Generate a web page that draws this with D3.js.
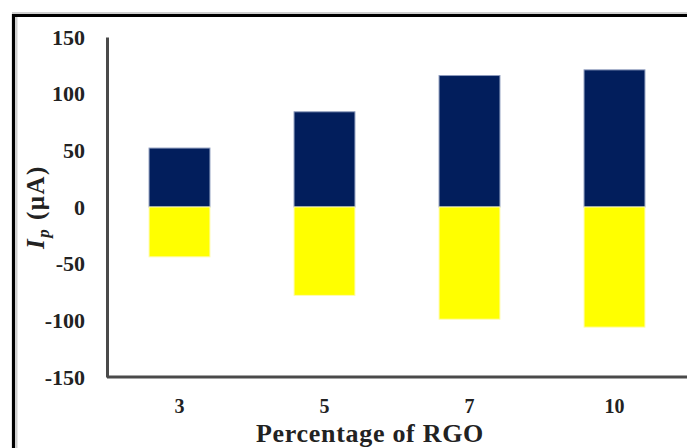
<!DOCTYPE html>
<html>
<head>
<meta charset="utf-8">
<script src="https://cdn.jsdelivr.net/npm/d3@7/dist/d3.min.js"></script>
<style>
html,body{margin:0;padding:0;background:#fff;}
svg{display:block;}
text{font-family:"Liberation Serif","Times New Roman",serif;font-weight:bold;fill:#222;}
</style>
</head>
<body>
<svg id="chart" width="687" height="448"></svg>
<script>
const categories = ["3", "5", "7", "10"];
const anodic = [52, 84, 116, 121];
const cathodic = [-44, -78, -99, -106];
const yTicks = [150, 100, 50, 0, -50, -100, -150];
const xTitle = "Percentage of RGO";

(function () {
const svg = d3.select("#chart");
const W = 687, H = 448;
const mLeft = 107, mRight = 687, mTop = 37, mBottom = 377;

// frame
svg.append("line").attr("x1", 12).attr("x2", W).attr("y1", 13).attr("y2", 13)
  .attr("stroke", "#cfcfcf").attr("stroke-width", 2);
svg.append("line").attr("x1", 16.5).attr("x2", 16.5).attr("y1", 17).attr("y2", H)
  .attr("stroke", "#cfcfcf").attr("stroke-width", 2);
svg.append("path").attr("d", `M13.5,${H}V15.5H${W}`)
  .attr("fill", "none").attr("stroke", "#000").attr("stroke-width", 3.2);

const x = d3.scaleBand().domain(categories).range([mLeft, mRight])
  .paddingInner(0.58).paddingOuter(0.29);
const y = d3.scaleLinear().domain([-150, 150]).range([mBottom, mTop]);

// bars
svg.append("g").selectAll("rect").data(categories).join("rect")
  .attr("x", d => x(d)).attr("width", x.bandwidth())
  .attr("y", (d, i) => y(anodic[i])).attr("height", (d, i) => y(0) - y(anodic[i]))
  .attr("fill", "#021E5C").attr("stroke", "#8d9bbd").attr("stroke-width", 1);
svg.append("g").selectAll("rect").data(categories).join("rect")
  .attr("x", d => x(d)).attr("width", x.bandwidth())
  .attr("y", y(0)).attr("height", (d, i) => y(cathodic[i]) - y(0))
  .attr("fill", "#FFFF00").attr("stroke", "#fffbb0").attr("stroke-width", 1);

const fam = '"Liberation Serif","Times New Roman",serif';

// y axis
const yAxis = svg.append("g").attr("transform", `translate(${mLeft},0)`)
  .call(d3.axisLeft(y).tickValues(yTicks).tickSize(0).tickPadding(22)
    .tickFormat(d => String(d)));
yAxis.select(".domain").attr("stroke", "#4a4a4a").attr("stroke-width", 3);
yAxis.selectAll("text").attr("font-size", 22)
  .style("font-family", fam).style("font-weight", "bold").attr("fill", "#222");

// x axis
const xAxis = svg.append("g").attr("transform", `translate(0,${mBottom})`)
  .call(d3.axisBottom(x).tickSize(0).tickPadding(22));
xAxis.select(".domain").attr("stroke", "#4a4a4a").attr("stroke-width", 3)
  .attr("d", `M${mLeft},0H${mRight}`);
xAxis.selectAll("text").attr("font-size", 20)
  .style("font-family", fam).style("font-weight", "bold").attr("fill", "#222");

// x title
svg.append("text").attr("x", 370).attr("y", 442).attr("text-anchor", "middle")
  .attr("font-size", 26).attr("letter-spacing", 0.7).text(xTitle);

// y title
const yt = svg.append("text").attr("transform", "translate(44,207) rotate(-90)")
  .attr("text-anchor", "middle").attr("font-size", 25).attr("letter-spacing", 1.5);
yt.append("tspan").attr("font-style", "italic").text("I");
yt.append("tspan").attr("font-style", "italic").attr("font-size", 17).attr("dy", 5).text("p");
yt.append("tspan").attr("dy", -5).text(" (μA)");
})();
</script>
</body>
</html>
